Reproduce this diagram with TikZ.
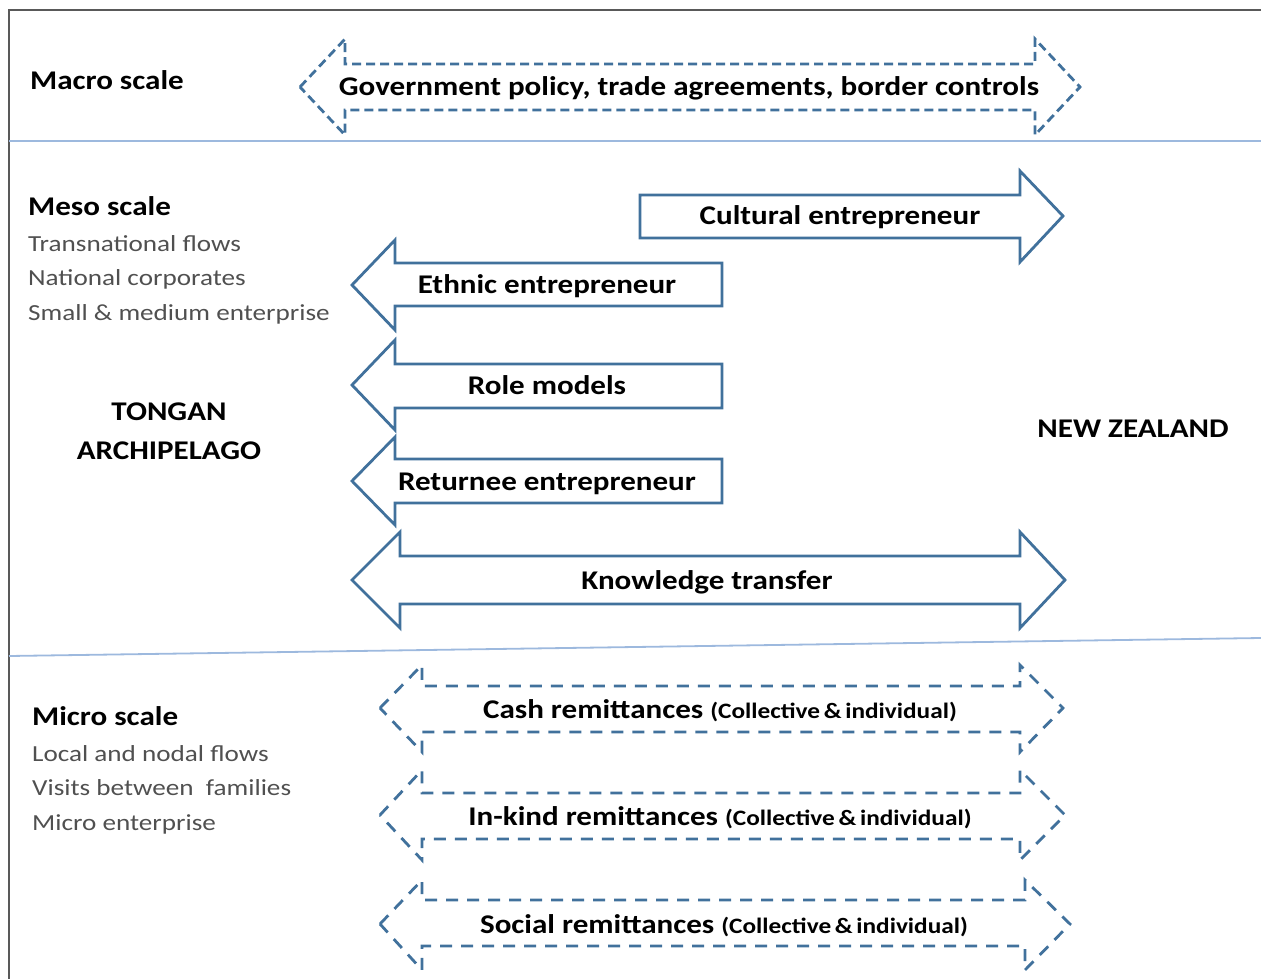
\documentclass[tikz,border=0pt]{standalone}
\usepackage{fontspec}
\setmainfont{Carlito}[FakeStretch=1.15]
\newfontfamily\subfont{Carlito}[FakeStretch=1.18]
\definecolor{arrowblue}{HTML}{41719C}
\definecolor{sepblue}{HTML}{9DB9DE}
\definecolor{framegray}{HTML}{595959}
\definecolor{txtgray}{HTML}{505050}
\tikzset{
  blockarrow/.style={draw=arrowblue, line width=2.8pt, fill=white, line join=miter},
  dasharrow/.style={draw=arrowblue, line width=2.8pt, dash pattern=on 9pt off 5pt, line join=miter},
  remitarrow/.style={draw=arrowblue, line width=2.8pt, dash pattern=on 12pt off 9pt, line join=miter},
  lbl/.style={font=\bfseries\fontsize{27}{30}\selectfont, inner sep=0pt, anchor=base},
  heading/.style={font=\bfseries\fontsize{27}{30}\selectfont, inner sep=0pt, anchor=base west},
  subline/.style={font=\subfont\fontsize{23}{26}\selectfont, text=txtgray, inner sep=0pt, anchor=base west},
  place/.style={font=\bfseries\fontsize{27}{30}\selectfont, inner sep=0pt, anchor=base},
}
\newcommand{\smallpart}[1]{{\fontsize{22}{24}\selectfont #1}}
\begin{document}
\begin{tikzpicture}[x=1pt,y=-1pt]
\useasboundingbox (0,0) rectangle (1261,979);
% frame
\draw[framegray, line width=1.6pt] (9,979) -- (9,10) -- (1261,10);
% separators
\draw[sepblue, line width=1.8pt] (9,141) -- (1261,141);
\draw[sepblue, line width=1.8pt] (9,656) -- (1261,638);

% macro dashed double arrow
\draw[dasharrow] (300,87) -- (345,39) -- (345,64) -- (1035,64) -- (1035,39) -- (1080,87)
  -- (1035,135) -- (1035,110) -- (345,110) -- (345,135) -- cycle;
\node[lbl] (gov) at (689,96) {Government policy, trade agreements, border controls};

% meso arrows
\draw[blockarrow] (640,195) -- (1020,195) -- (1020,171) -- (1063,216) -- (1020,262) -- (1020,238) -- (640,238) -- cycle;
\node[lbl] (cult) at (840,224) {Cultural entrepreneur};

\draw[blockarrow] (722,263) -- (395,263) -- (395,240) -- (352,285) -- (395,330) -- (395,306) -- (722,306) -- cycle;
\node[lbl] (ethnic) at (547,293) {Ethnic entrepreneur};

\draw[blockarrow] (722,364) -- (395,364) -- (395,340) -- (352,385) -- (395,430) -- (395,408) -- (722,408) -- cycle;
\node[lbl] (role) at (547,394) {Role models};

\draw[blockarrow] (722,459) -- (395,459) -- (395,437) -- (352,481) -- (395,525) -- (395,503) -- (722,503) -- cycle;
\node[lbl] (returnee) at (547,490) {Returnee entrepreneur};

\draw[blockarrow] (352,580) -- (400,532) -- (400,556) -- (1020,556) -- (1020,532) -- (1065,580)
  -- (1020,628) -- (1020,604) -- (400,604) -- (400,628) -- cycle;
\node[lbl] (know) at (707,589) {Knowledge transfer};

% micro dashed arrows
\draw[remitarrow] (380,708) -- (422,665) -- (422,686) -- (1020,686) -- (1020,665) -- (1063,708)
  -- (1020,752) -- (1020,732) -- (422,732) -- (422,752) -- cycle;
\node[lbl] (cash) at (720,718) {Cash remittances \smallpart{(Collective\,\&\,individual)}};

\draw[remitarrow] (380,815) -- (422,770) -- (422,793) -- (1020,793) -- (1020,770) -- (1065,815)
  -- (1020,860) -- (1020,839) -- (422,839) -- (422,860) -- cycle;
\node[lbl] (inkind) at (720,825) {In-kind remittances \smallpart{(Collective\,\&\,individual)}};

\draw[remitarrow] (380,924) -- (422,880) -- (422,900) -- (1025,900) -- (1025,880) -- (1070,924)
  -- (1025,970) -- (1025,946) -- (422,946) -- (422,970) -- cycle;
\node[lbl] (social) at (724,933) {Social remittances \smallpart{(Collective\,\&\,individual)}};

% left texts
\node[heading] (macro) at (30,90) {Macro scale};
\node[heading] (meso) at (28,215) {Meso scale};
\node[subline] (m1) at (28,251) {Transnational flows};
\node[subline] (m2) at (28,285) {National corporates};
\node[subline] (m3) at (28,320) {Small \& medium enterprise};
\node[place] (tongan) at (169,420) {TONGAN};
\node[place] (archi) at (169,459) {ARCHIPELAGO};
\node[place] (nz) at (1133,437) {NEW ZEALAND};
\node[heading] (micro) at (32,725) {Micro scale};
\node[subline] (u1) at (32,761) {Local and nodal flows};
\node[subline] (u2) at (32,795) {Visits between\ \ families};
\node[subline] (u3) at (32,830) {Micro enterprise};
\end{tikzpicture}
\end{document}
